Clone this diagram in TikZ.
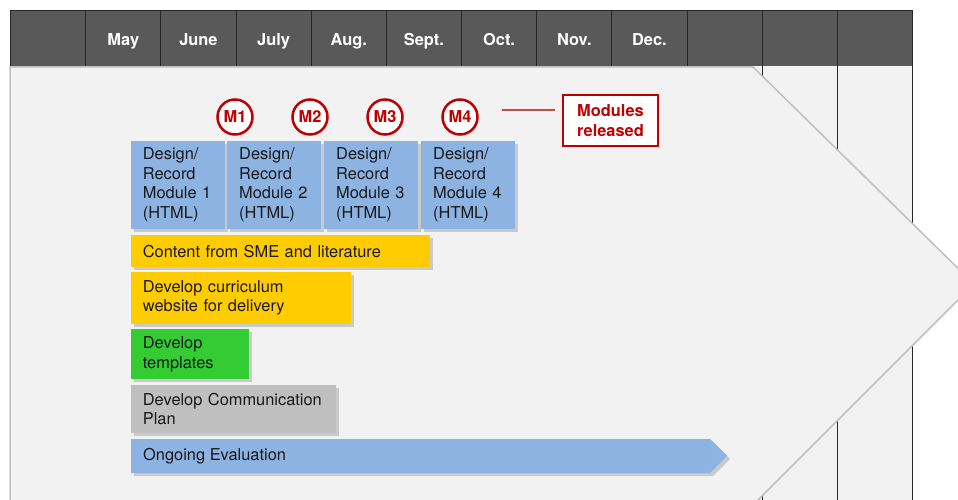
\documentclass[tikz,border=0pt]{standalone}
\usepackage{fontspec}
\setmainfont{TeX Gyre Heros}
\usetikzlibrary{shadows}
\definecolor{headgray}{HTML}{595959}
\definecolor{paleback}{HTML}{F2F2F2}
\definecolor{edgegray}{HTML}{BFBFBF}
\definecolor{taskblue}{HTML}{8DB3E2}
\definecolor{taskyellow}{HTML}{FFCC00}
\definecolor{taskgreen}{HTML}{33CC33}
\definecolor{taskgray}{HTML}{BFBFBF}
\definecolor{relred}{HTML}{C00000}
\definecolor{linered}{HTML}{C0504D}
\newcommand{\chartfont}{\fontsize{16.4}{19.5}\selectfont}
\tikzset{
	month/.style={text=white, font=\chartfont\bfseries, anchor=base},
	milestone/.style={circle, draw=relred, line width=2.5pt, fill=white, text=relred,
		font=\chartfont\bfseries, minimum size=35pt, inner sep=0pt},
	task/.style={rectangle, anchor=north west, align=left, inner xsep=12pt, inner ysep=0pt,
		text=black!90, font=\chartfont,
		drop shadow={shadow xshift=3pt, shadow yshift=-3pt, opacity=0.35}},
}
\begin{document}
\begin{tikzpicture}[x=1pt, y=-1pt]
				\useasboundingbox (0,0) rectangle (958,500);
				% background and month grid
				\fill[paleback] (10,66) rectangle (912.5,500);
				\fill[headgray] (10,10) rectangle (912.5,66);
				\draw[black!85, line width=0.8pt] (10,10) -- (912.5,10) (10,10) -- (10,66)
					(85.7,10) -- (85.7,500) (160.8,10) -- (160.8,500) (236,10) -- (236,500)
					(311.2,10) -- (311.2,500) (386.3,10) -- (386.3,500) (461.5,10) -- (461.5,500)
					(536.7,10) -- (536.7,500) (611.8,10) -- (611.8,500) (687,10) -- (687,500)
					(762.2,10) -- (762.2,500) (837.3,10) -- (837.3,500) (912.5,10) -- (912.5,500);
				\node[month] (may) at (123.3,45.5) {May};
				\node[month] (june) at (198.4,45.5) {June};
				\node[month] (july) at (273.6,45.5) {July};
				\node[month] (aug) at (348.8,45.5) {Aug.};
				\node[month] (sept) at (423.9,45.5) {Sept.};
				\node[month] (oct) at (499.1,45.5) {Oct.};
				\node[month] (nov) at (574.3,45.5) {Nov.};
				\node[month] (dec) at (649.4,45.5) {Dec.};
				%--
				\filldraw[fill=paleback, draw=edgegray, line width=1.5pt]
					(10,67) -- (753,67) -- (974,284) -- (757,501) -- (10,501) -- cycle;
				%--
				\node[milestone] (m1) at (235,117) {M1};
				\node[milestone] (m2) at (310,117) {M2};
				\node[milestone] (m3) at (385,117) {M3};
				\node[milestone] (m4) at (460,117) {M4};
				\node[draw=relred, line width=2.5pt, fill=white, text=relred, font=\chartfont\bfseries,
					align=center, minimum width=95pt, minimum height=51pt, inner sep=0pt] (rel) at (610.5,120.5) {Modules\\released};
				\coordinate (relstart) at (502,110);
				\draw[linered, line width=2pt, shorten >=7pt] (relstart) -- (rel.west |- relstart);
				%--
				\node[task, fill=taskblue, text width=69.6pt, minimum height=88pt] (mod1) at (130.7,140.5) {Design/\\Record\\Module 1\\(HTML)};
				\node[task, fill=taskblue, text width=69.6pt, minimum height=88pt] (mod2) at (227,140.5) {Design/\\Record\\Module 2\\(HTML)};
				\node[task, fill=taskblue, text width=69.6pt, minimum height=88pt] (mod3) at (324,140.5) {Design/\\Record\\Module 3\\(HTML)};
				\node[task, fill=taskblue, text width=69.6pt, minimum height=88pt] (mod4) at (421,140.5) {Design/\\Record\\Module 4\\(HTML)};
				%--
				\node[task, fill=taskyellow, text width=275.3pt, minimum height=31.7pt] (content) at (130.7,235) {Content from SME and literature};
				\node[task, fill=taskyellow, text width=196.3pt, minimum height=52.3pt] (website) at (130.7,271.7) {Develop curriculum\\website for delivery};
				\node[task, fill=taskgreen, text width=94pt, minimum height=50pt] (templates) at (130.7,329) {Develop\\templates};
				\node[task, fill=taskgray, text width=181.3pt, minimum height=47.7pt] (commplan) at (130.7,385) {Develop Communication\\Plan};
				%--
				\fill[taskblue, drop shadow={shadow xshift=3pt, shadow yshift=-3pt, opacity=0.35}]
					(131,439) -- (710,439) -- (727,456) -- (710,473) -- (131,473) -- cycle;
				\node[anchor=base west, inner sep=0pt, text=black!90, font=\chartfont] (evaluation) at (143,460.5) {Ongoing Evaluation};
\end{tikzpicture}
\end{document}
